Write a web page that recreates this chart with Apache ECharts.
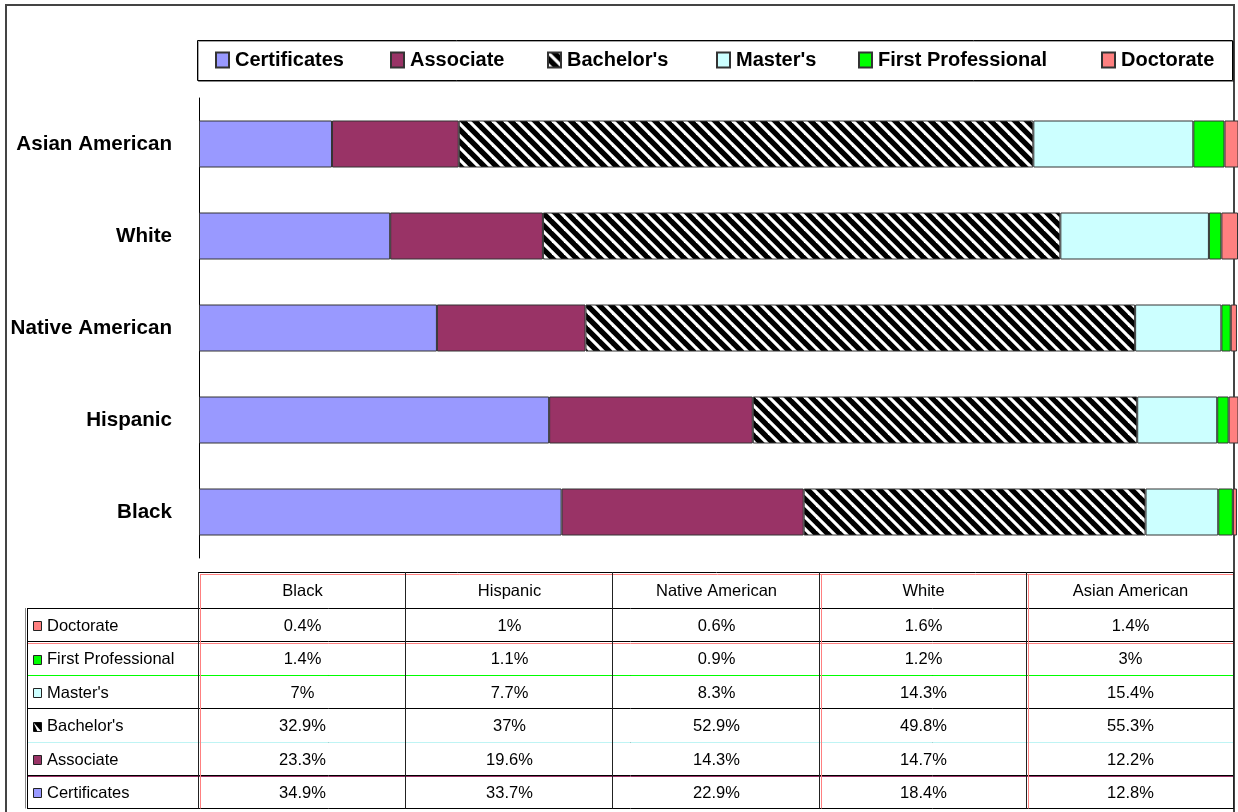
<!DOCTYPE html>
<html>
<head>
<meta charset="utf-8">
<script src="https://cdn.jsdelivr.net/npm/echarts@6/dist/echarts.min.js"></script>
<style>
  html, body { margin: 0; padding: 0; background: #fff; }
  #main { width: 1238px; height: 812px; }
</style>
</head>
<body>
<div id="main"></div>
<script>
// data (percent of degrees, by group)
var categories = ['Black', 'Hispanic', 'Native American', 'White', 'Asian American'];
var seriesNames = ['Certificates', 'Associate', "Bachelor's", "Master's", 'First Professional', 'Doctorate'];
var certificates = [34.9, 33.7, 22.9, 18.4, 12.8];
var associate = [23.3, 19.6, 14.3, 14.7, 12.2];
var bachelors = [32.9, 37, 52.9, 49.8, 55.3];
var masters = [7, 7.7, 8.3, 14.3, 15.4];
var firstProfessional = [1.4, 1.1, 0.9, 1.2, 3];
var doctorate = [0.4, 1, 0.6, 1.6, 1.4];

var FONT = 'Arial, "Liberation Sans", sans-serif';

// diagonal stripe tile for Bachelor's
function stripeTile() {
    var n = 12;
    var c = document.createElement('canvas');
    c.width = n;
    c.height = n;
    var ctx = c.getContext('2d');
    ctx.fillStyle = '#000';
    ctx.fillRect(0, 0, n, n);
    ctx.strokeStyle = '#fff';
    ctx.lineWidth = 3.2;
    for (var k = -1; k <= 1; k++) {
        ctx.beginPath();
        ctx.moveTo(-2, -2 + k * n);
        ctx.lineTo(n + 2, n + 2 + k * n);
        ctx.stroke();
    }
    return c;
}
var stripes = { image: stripeTile(), repeat: 'repeat' };

var seriesData = [certificates, associate, bachelors, masters, firstProfessional, doctorate];
var colors = ['#9999FF', '#993366', stripes, '#CCFFFF', '#00FF00', '#FF8080'];
var swatch = ['#9999FF', '#993366', '#000', '#CCFFFF', '#00FF00', '#FF8080'];
var legendLeft = [215, 390, 547, 716, 858, 1101];

var chartDom = document.getElementById('main');
var myChart = echarts.init(chartDom);

// ---- data table under the chart (built from the same arrays)
var colX0 = 199, colW = 207, headTop = 572, rowTop = 608, rowH = 33.4;
var tableRight = colX0 + colW * categories.length;
var els = [];

function hline(x1, x2, y, color, w) {
    els.push({ type: 'line', silent: true, z: 10,
        shape: { x1: x1, y1: y, x2: x2, y2: y },
        style: { stroke: color, lineWidth: w || 1 } });
}
function vline(x, y1, y2, color, w) {
    els.push({ type: 'line', silent: true, z: 10,
        shape: { x1: x, y1: y1, x2: x, y2: y2 },
        style: { stroke: color, lineWidth: w || 1 } });
}
function txt(x, y, s, align) {
    els.push({ type: 'text', silent: true, z: 11, x: x, y: y,
        style: { text: s, font: '16.5px ' + FONT, fill: '#000',
            textAlign: align, align: align, textVerticalAlign: 'middle', verticalAlign: 'middle' } });
}

// outer frame
els.push({ type: 'rect', silent: true, z: 1,
    shape: { x: 6, y: 5, width: 1228, height: 900 },
    style: { fill: 'none', stroke: '#444', lineWidth: 2 } });
// legend box
els.push({ type: 'rect', silent: true, z: 1,
    shape: { x: 197.5, y: 40.5, width: 1035, height: 40 },
    style: { fill: '#fff', stroke: '#000', lineWidth: 1, shadowColor: 'rgba(0,0,0,0.35)', shadowOffsetX: 1, shadowOffsetY: 1 } });

var rowOrder = [5, 4, 3, 2, 1, 0]; // Doctorate on top
var rowYs = [];
for (var r = 0; r <= rowOrder.length; r++) rowYs.push(Math.round(rowTop + r * rowH) + 0.5);

// grid lines
hline(colX0, tableRight, headTop + 0.5, '#000');
hline(colX0 + 2, tableRight, headTop + 2.5, '#FF8080');
for (var r = 0; r < rowYs.length; r++) hline(27, tableRight, rowYs[r], '#000');
hline(27, tableRight, rowYs[1] + 2, '#FF8080');
hline(27, tableRight, rowYs[2], '#00FF00');
hline(27, tableRight, rowYs[4], '#BFF4F4');
hline(27, tableRight, rowYs[5] + 1, '#993366');
vline(27.5, rowTop, rowYs[rowYs.length - 1], '#000');
vline(25.5, rowTop, rowYs[rowYs.length - 1], '#888');
for (var c = 0; c <= categories.length; c++) {
    var x = colX0 + c * colW - 0.5;
    vline(x, headTop, rowYs[rowYs.length - 1], '#222');
    if (c === 0 || c === 3 || c === 4) vline(x + 2, headTop + 2, rowYs[rowYs.length - 1], '#FF8080');
}

// header texts
for (var c = 0; c < categories.length; c++) {
    txt(colX0 + c * colW + colW / 2, (headTop + rowTop) / 2 + 1, categories[c], 'center');
}
// rows
rowOrder.forEach(function (si, r) {
    var yc = (rowYs[r] + rowYs[r + 1]) / 2 + 1;
    var y0 = Math.round(yc - 5) + 0.5, y1 = y0 + 9;
    els.push({ type: 'rect', silent: true, z: 11,
        shape: { x: 33.5, y: y0, width: 8, height: 9 },
        style: { fill: si === 2 ? '#fff' : swatch[si], stroke: '#222', lineWidth: 1 } });
    if (si === 2) {
        els.push({ type: 'polygon', silent: true, z: 12,
            shape: { points: [[33.5, y0], [41.5, y0], [41.5, y1]] },
            style: { fill: '#000' } });
        els.push({ type: 'polygon', silent: true, z: 12,
            shape: { points: [[33.5, y0], [33.5, y1], [37.5, y1]] },
            style: { fill: '#000' } });
    }
    txt(47, yc, seriesNames[si], 'left');
    var vals = seriesData[si];
    for (var c = 0; c < categories.length; c++) {
        txt(colX0 + c * colW + colW / 2, yc, vals[c] + '%', 'center');
    }
});

var legends = seriesNames.map(function (name, i) {
    return {
        data: [name],
        left: legendLeft[i],
        top: 50,
        padding: 0,
        icon: 'rect',
        itemWidth: 13,
        itemHeight: 15,
        selectedMode: false,
        textStyle: { fontSize: 20, fontWeight: 'bold', color: '#000', fontFamily: FONT, padding: [0, 0, 0, 1] }
    };
});

var series = seriesNames.map(function (name, i) {
    return {
        name: name,
        type: 'bar',
        stack: 'total',
        barWidth: 47,
        data: seriesData[i],
        itemStyle: { color: colors[i], borderColor: '#333', borderWidth: 1 },
        emphasis: { disabled: true }
    };
});

var option = {
    animation: false,
    backgroundColor: '#fff',
    graphic: { elements: els },
    legend: legends,
    grid: { left: 199, top: 98, height: 460, width: 1039 },
    xAxis: {
        type: 'value',
        min: 0,
        max: 100,
        show: false
    },
    yAxis: {
        type: 'category',
        data: categories,
        axisLine: { show: true, lineStyle: { color: '#000', width: 1 } },
        axisTick: { show: false },
        splitLine: { show: false },
        axisLabel: {
            margin: 27,
            fontSize: 20.6,
            fontWeight: 'bold',
            color: '#000',
            fontFamily: FONT
        }
    },
    series: series
};

option && myChart.setOption(option);
</script>
</body>
</html>
